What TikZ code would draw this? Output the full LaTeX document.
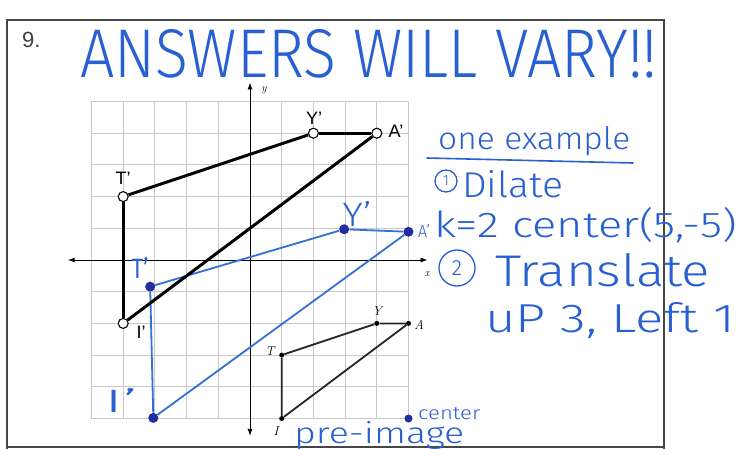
\documentclass[tikz,border=0pt]{standalone}
\usepackage{fontspec}
\newfontfamily\hand{Fira Sans Light}
\newfontfamily\labsans{Liberation Sans}
\usetikzlibrary{arrows.meta}
\definecolor{inkblue}{RGB}{40,95,210}
\definecolor{lineblue}{RGB}{50,112,215}
\definecolor{dotblue}{RGB}{35,45,160}
\definecolor{gridgray}{RGB}{200,200,200}
\definecolor{framegray}{RGB}{70,70,70}
\begin{document}
\begin{tikzpicture}[x=1pt,y=-1pt,
  ink/.style={text=inkblue, inner sep=0pt, font=\hand},
  inkline/.style={draw=inkblue, line width=1.6pt, line cap=round},
  gridline/.style={draw=gridgray, line width=0.9pt},
  axisline/.style={draw=black, line width=0.9pt, {Latex[length=7pt,width=5pt]}-{Latex[length=7pt,width=5pt]}},
  predot/.style={circle, fill=black, inner sep=0pt, minimum size=5pt},
  imgdot/.style={circle, draw=black, fill=white, line width=1.1pt, inner sep=0pt, minimum size=10pt},
  bdot/.style={circle, fill=dotblue, inner sep=0pt, minimum size=10pt},
  preline/.style={draw=black!85, line width=1.8pt},
  imgline/.style={draw=black, line width=3pt},
  bline/.style={draw=lineblue, line width=1.8pt},
  prelab/.style={font=\fontsize{13}{13}\selectfont\itshape, inner sep=0pt},
  imglab/.style={font=\labsans\fontsize{18}{18}\selectfont, inner sep=0pt},
  framel/.style={draw=framegray, line width=1.5pt}]
\useasboundingbox (0,0) rectangle (752,449);
\fill[white] (0,0) rectangle (752,449);
% frame
\draw[framel] (7,449) -- (7,20) -- (664,20) -- (664,449);
\draw[framel] (7,447) -- (664,447);

\begin{scope}[shift={(250,260)}, x=31.7pt, y=31.7pt]
  \foreach \k in {-5,...,5} {
    \draw[gridline] (\k,-5) -- (\k,5);
    \draw[gridline] (-5,\k) -- (5,\k);
  }
  \coordinate (xl) at (-5.75,0);
  \coordinate (xr) at (5.6,0);
  \coordinate (yt) at (0,5.6);
  \coordinate (yb) at (0,-5.55);
  \draw[axisline] (xl) -- (xr);
  \draw[axisline] (yt) -- (yb);
  % pre-image
  \node[predot] (T) at (1,-3) {};
  \node[predot] (Y) at (4,-2) {};
  \node[predot] (A) at (5,-2) {};
  \node[predot] (I) at (1,-5) {};
  \draw[preline] (T) -- (Y) -- (A) -- (I) -- (T);
  % blue dilation
  \node[bdot] (bT) at (-3.15,-0.84) {};
  \node[bdot] (bY) at (2.97,0.97) {};
  \node[bdot] (bA) at (5.0,0.89) {};
  \node[bdot] (bI) at (-3.05,-4.98) {};
  \node[bdot, minimum size=8pt] (ctr) at (5,-5) {};
  \draw[bline] (bT) -- (bY);
  \draw[bline] (bY) -- (bA);
  \draw[bline] (bA) -- (bI);
  \draw[bline] (bI) -- (bT);
  % black image
  \node[imgdot] (Tp) at (-4,2) {};
  \node[imgdot] (Yp) at (2,4) {};
  \node[imgdot] (Ap) at (4,4) {};
  \node[imgdot] (Ip) at (-4,-2) {};
  \draw[imgline] (Tp) -- (Yp);
  \draw[imgline] (Yp) -- (Ap);
  \draw[imgline] (Ap) -- (Ip);
  \draw[imgline] (Ip) -- (Tp);
\end{scope}

% axis labels
\node[prelab, font=\fontsize{11}{11}\selectfont\itshape] (ylab) at (264,90) {y};
\node[prelab, font=\fontsize{11}{11}\selectfont\itshape] (xlab) at (427,274) {x};
% pre-image labels
\node[prelab] (Tl) at (270,351) {T};
\node[prelab] (Yl) at (377,311) {Y};
\node[prelab] (Al) at (419,325) {A};
\node[prelab] (Il) at (276,431) {I};
% image labels
\node[imglab] (Tpl) at (123,178) {T’};
\node[imglab] (Ypl) at (314,118) {Y’};
\node[imglab] (Apl) at (396,131) {A’};
\node[imglab] (Ipl) at (141,332) {I’};
% blue labels
\node[ink] (bTl) at (140,268) {\resizebox{17pt}{21pt}{\fontspec{Fira Sans}T’}};
\node[ink] (bYl) at (357,214) {\resizebox{29pt}{25pt}{Y’}};
\node[ink] (bAl) at (424,231) {\resizebox{12pt}{13pt}{A’}};
\node[ink] (bIl) at (121,400) {\resizebox{33pt}{24pt}{I’}};
\node[ink, anchor=base west] (ctrl) at (418,419) {\resizebox{62pt}{12pt}{center}};
\node[ink, anchor=base west] (pre) at (294,443) {\resizebox{170pt}{22pt}{pre-image}};

% header
\node[anchor=base west, inner sep=0pt, text=black!75, font=\labsans\fontsize{22}{22}\selectfont] (num) at (22,48) {9.};
\node[ink, anchor=base west] (title) at (80,78) {\resizebox{577pt}{48pt}{ANSWERS WILL VARY!!}};

% right-hand notes
\node[ink, anchor=base west] (ex) at (438,150) {\resizebox{192pt}{23pt}{one example}};
\coordinate (ul1) at (427,158);
\coordinate (ul2) at (633,163);
\draw[inkline] (ul1) -- (ul2);
\node[ink, circle, draw=inkblue, line width=1.3pt, minimum size=22pt] (c1) at (446,181) {\fontsize{15}{15}\selectfont 1};
\node[ink, anchor=base west] (dil) at (462,197) {\resizebox{101pt}{27pt}{Dilate}};
\node[ink, anchor=base west] (kk) at (434,237) {\resizebox{303pt}{30pt}{k=2 center(5,-5)}};
\node[ink, circle, draw=inkblue, line width=1.3pt, minimum size=36pt] (c2) at (457,268) {\fontsize{22}{22}\selectfont 2};
\node[ink, anchor=base west] (tr) at (495,286) {\resizebox{215pt}{33pt}{Translate}};
\node[ink, anchor=base west] (up) at (485,332) {\resizebox{250pt}{30pt}{uP 3, Left 1}};
\end{tikzpicture}
\end{document}
